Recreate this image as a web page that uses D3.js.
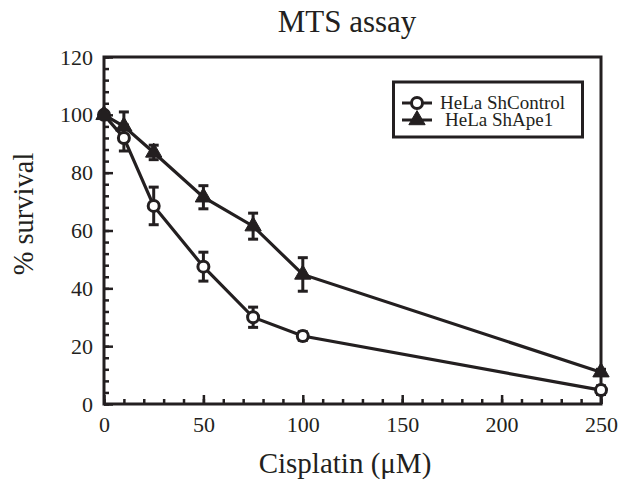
<!DOCTYPE html>
<html><head><meta charset="utf-8">
<script src="https://cdn.jsdelivr.net/npm/d3@7"></script>
<style>
body{margin:0;background:#fff;}
svg{display:block;}
text{font-family:"Liberation Serif","Times New Roman",serif;fill:#231f20;}
</style></head>
<body><svg id="c" width="626" height="486"></svg>
<script>
const doses = [0, 10, 25, 50, 75, 100, 250];
const controlValues = [100, 92, 68.5, 47.5, 30, 23.5, 4.8];
const controlErr = [1, 4.5, 6.5, 5, 3.5, 1.5, 1.5];
const ape1Values = [100, 96, 87, 71.5, 61.5, 44.8, 11];
const ape1Err = [1, 5, 2.5, 4, 4.5, 5.8, 1];
const seriesNames = ["HeLa ShControl", "HeLa ShApe1"];
const xTicks = [0, 50, 100, 150, 200, 250];
const yTicks = [0, 20, 40, 60, 80, 100, 120];

const ink = "#231f20";
const svg = d3.select("#c");
const L = 104, R = 601, T = 57, B = 404;
const x = d3.scaleLinear().domain([0, 250]).range([L, R]);
const y = d3.scaleLinear().domain([0, 120]).range([B, T]);

// frame
svg.append("rect").attr("x", L).attr("y", T).attr("width", R - L).attr("height", B - T)
  .attr("fill", "none").attr("stroke", ink).attr("stroke-width", 3);

// minor ticks
const xMinor = d3.range(0, 251, 10);
const yMinor = d3.range(0, 121, 4);
const gxm = svg.append("g").attr("transform", `translate(0,${B})`)
  .call(d3.axisBottom(x).tickValues(xMinor).tickSize(-5).tickFormat(""));
const gym = svg.append("g").attr("transform", `translate(${L},0)`)
  .call(d3.axisLeft(y).tickValues(yMinor).tickSize(-5).tickFormat(""));
[gxm, gym].forEach(g => { g.select(".domain").remove(); g.selectAll("line").attr("stroke", ink).attr("stroke-width", 2.5); });

// major ticks + labels
const gx = svg.append("g").attr("transform", `translate(0,${B})`)
  .call(d3.axisBottom(x).tickValues(xTicks).tickSize(-9).tickPadding(12));
const gy = svg.append("g").attr("transform", `translate(${L},0)`)
  .call(d3.axisLeft(y).tickValues(yTicks).tickSize(-9).tickPadding(11));
[gx, gy].forEach(g => {
  g.select(".domain").remove();
  g.selectAll("line").attr("stroke", ink).attr("stroke-width", 2.5);
  g.selectAll("text").attr("font-size", 22).attr("font-family", "Liberation Serif").attr("fill", ink);
});

// series
const mk = (vals, errs) => doses.map((d, i) => ({x: d, y: vals[i], e: errs[i]}));
const series = [
  {name: seriesNames[0], data: mk(controlValues, controlErr), shape: "circle"},
  {name: seriesNames[1], data: mk(ape1Values, ape1Err), shape: "triangle"}
];
const line = d3.line().x(d => x(d.x)).y(d => y(d.y));
series.forEach(s => {
  svg.append("path").datum(s.data).attr("d", line).attr("fill", "none")
    .attr("stroke", ink).attr("stroke-width", 3.2);
});
const capW = 5;
series.forEach(s => {
  const g = svg.append("g").attr("stroke", ink).attr("stroke-width", 3);
  s.data.forEach(d => {
    const cx = x(d.x), y1 = y(d.y + d.e), y2 = y(d.y - d.e);
    g.append("line").attr("x1", cx).attr("x2", cx).attr("y1", y1).attr("y2", y2);
    g.append("line").attr("x1", cx - capW).attr("x2", cx + capW).attr("y1", y1).attr("y2", y1);
    g.append("line").attr("x1", cx - capW).attr("x2", cx + capW).attr("y1", y2).attr("y2", y2);
  });
});
const tri = d3.symbol().type(d3.symbolTriangle).size(115);
function marker(g, shape, cx, cy) {
  if (shape === "circle") {
    g.append("circle").attr("cx", cx).attr("cy", cy).attr("r", 5.5)
      .attr("fill", "#fff").attr("stroke", ink).attr("stroke-width", 3);
  } else {
    g.append("path").attr("d", tri()).attr("transform", `translate(${cx},${cy})`)
      .attr("fill", ink).attr("stroke", ink).attr("stroke-width", 1);
  }
}
series.forEach(s => {
  const g = svg.append("g");
  s.data.forEach(d => marker(g, s.shape, x(d.x), y(d.y)));
});

// legend
svg.append("rect").attr("x", 393.5).attr("y", 82).attr("width", 189).attr("height", 55)
  .attr("fill", "#fff").attr("stroke", ink).attr("stroke-width", 3);
const legY = [103, 120];
const legTx = [440, 445];
series.forEach((s, i) => {
  const g = svg.append("g");
  g.append("line").attr("x1", 402).attr("x2", 432).attr("y1", legY[i]).attr("y2", legY[i])
    .attr("stroke", ink).attr("stroke-width", 3);
  marker(g, s.shape, 417, legY[i]);
  g.append("text").attr("x", legTx[i]).attr("y", legY[i] + 6).attr("font-size", 19).text(s.name);
});

// titles
svg.append("text").attr("x", 347).attr("y", 32).attr("text-anchor", "middle")
  .attr("font-size", 31).text("MTS assay");
svg.append("text").attr("x", 345).attr("y", 473).attr("text-anchor", "middle")
  .attr("font-size", 29).text("Cisplatin (μM)");
svg.append("text").attr("transform", "translate(33,214) rotate(-90)").attr("text-anchor", "middle")
  .attr("font-size", 28.5).text("% survival");
</script></body></html>
